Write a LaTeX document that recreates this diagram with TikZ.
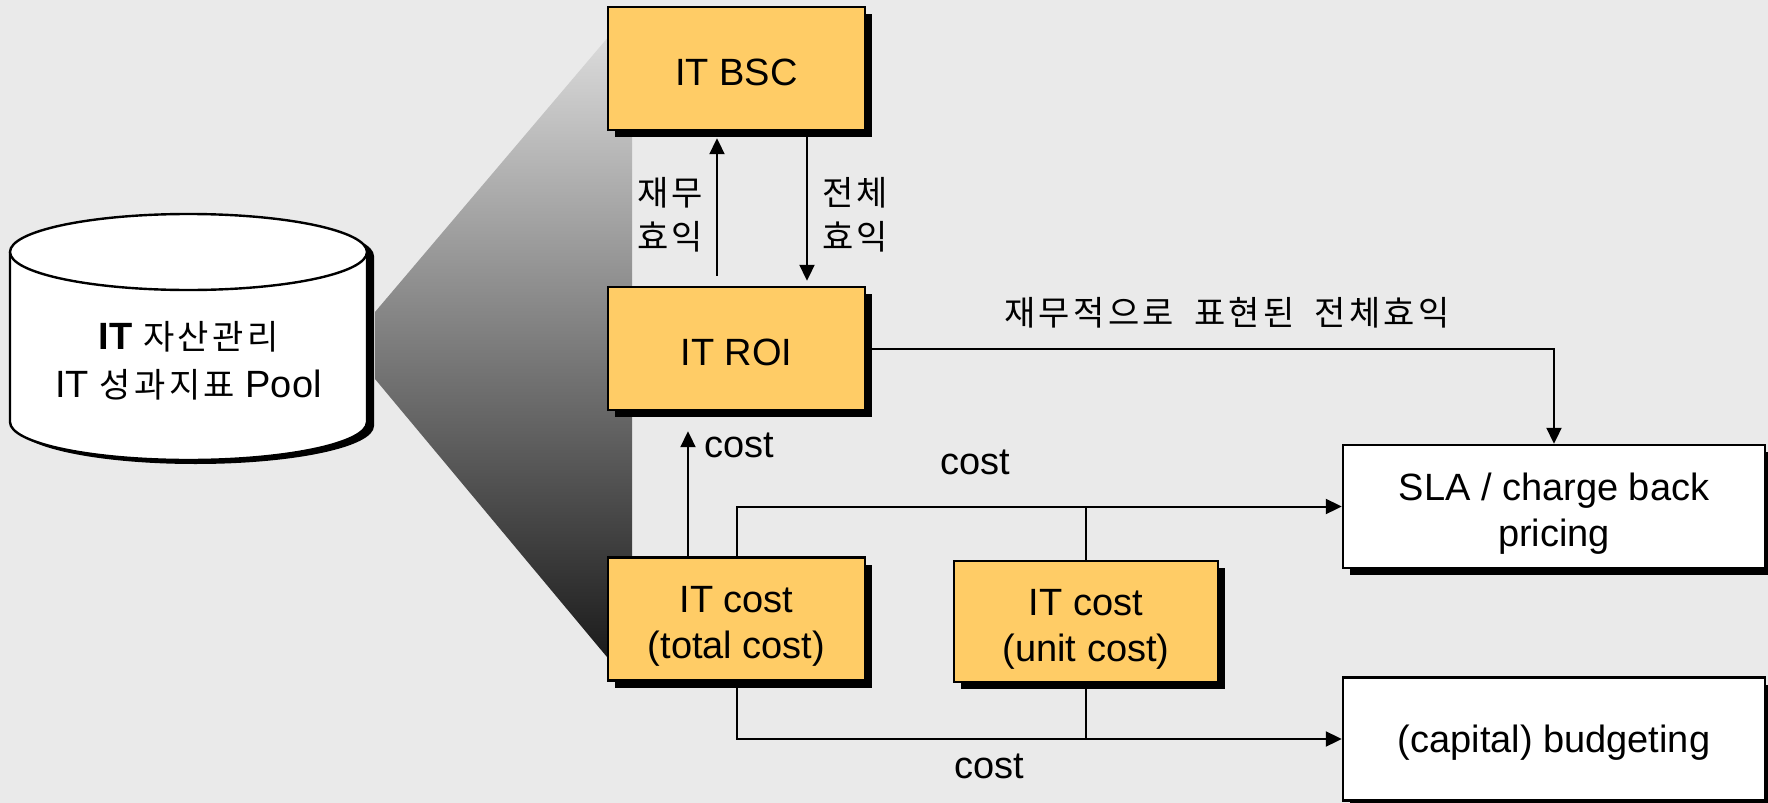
\documentclass[tikz,border=0pt]{standalone}
\usepackage{fontspec}
\setmainfont{Liberation Sans}
\newfontfamily\kr{Noto Sans CJK KR}[LetterSpace=10,WordSpace=1.8]
\usetikzlibrary{arrows.meta,shadows,positioning}
\definecolor{paper}{RGB}{234,234,234}
\definecolor{boxfill}{RGB}{255,204,102}
\definecolor{wedgetop}{RGB}{228,228,228}
\definecolor{wedgebot}{RGB}{18,18,18}
\newcommand\hg[1]{{\kr\fontsize{17}{23}\selectfont #1}}
\tikzset{
  itbox/.style={
      rectangle,
      inner sep=0pt,
      minimum width=128.5pt,
      minimum height=61.5pt,
      text height=17.5pt,
      line width=1.2pt,
      draw=black,
      fill=boxfill,
      align=center,
      font=\fontsize{19}{23}\selectfont,
      drop shadow={shadow xshift=3.5pt,shadow yshift=-3.5pt,fill=black,opacity=1}
  },
  twoline/.style={text height=43.5pt},
  outbox/.style={itbox,fill=white,minimum width=211pt},
  lbl/.style={inner sep=0pt,align=center,font=\fontsize{19}{23}\selectfont},
  krlbl/.style={inner sep=0pt,align=center,font=\kr\fontsize{17}{22}\selectfont},
  arr/.style={line width=1pt,-{Triangle[length=8pt,width=7.5pt]}},
  link/.style={line width=1pt}
}
\begin{document}
\begin{tikzpicture}[x=0.5pt,y=-0.5pt]
    \fill[paper] (0,0) rectangle (1768,803);
    \useasboundingbox (0,0) rectangle (1768,803);
    % shaded fan from the pool to the metric boxes
    \shade[top color=wedgetop,bottom color=wedgebot]
      (375,312) -- (632,9) -- (632,687) -- (375,379) -- cycle;
    % the pool
    \begin{scope}[shift={(7,4)}]
      \fill[black] (10,252) -- (10,422)
        arc[start angle=180,end angle=0,x radius=178.5,y radius=38] -- (367,252)
        arc[start angle=0,end angle=-180,x radius=178.5,y radius=38] -- cycle;
    \end{scope}
    \filldraw[fill=white,line width=1.2pt] (10,252) -- (10,422)
      arc[start angle=180,end angle=0,x radius=178.5,y radius=38] -- (367,252);
    \draw[fill=white,line width=1.2pt] (188.5,252) ellipse[x radius=178.5,y radius=38];
    \node[lbl,font=\fontsize{19}{24}\selectfont] (pool) at (188.5,361)
      {\textbf{IT} \hg{자산관리}\\IT \hg{성과지표} Pool};
    % metric boxes
    \node[itbox] (bsc) at (736.5,68.5) {IT BSC};
    \node[itbox] (roi) at (736.5,348.5) {IT ROI};
    \node[itbox,twoline] (total) at (736.5,619) {IT cost\\(total cost)};
    \node[itbox,twoline,minimum width=132pt,minimum height=60.5pt] (unit) at (1086,621.5) {IT cost\\(unit cost)};
    \node[outbox,twoline] (sla) at (1554,506.5) {SLA / charge back\\pricing};
    \node[outbox] (budget) at (1554,739) {(capital) budgeting};
    % flows
    \draw[arr] ([xshift=-9.75pt,yshift=5pt]roi.north) -- ([xshift=-9.75pt,yshift=-3.5pt]bsc.south);
    \draw[arr] ([xshift=35.25pt]bsc.south) -- ([xshift=35.25pt,yshift=2.5pt]roi.north);
    \draw[arr] ([xshift=-24.25pt]total.north) -- ([xshift=-24.25pt,yshift=-10pt]roi.south);
    \draw[arr] (roi.east) -| (sla.north);
    \draw[arr] (total.north) |- (sla.west);
    \draw[link] (unit.north) -- (unit.north |- sla.west);
    \draw[arr] (total.south) |- (budget.west);
    \draw[link] (unit.south) -- (unit.south |- budget.west);
    % labels
    \node[krlbl] (finben) at (670,215) {재무\\효익};
    \node[krlbl] (totben) at (855,215) {전체\\효익};
    \node[lbl] (costroi) at (739,445) {cost};
    \node[lbl] (costsla) at (975,462) {cost};
    \node[lbl] (costbud) at (989,766) {cost};
    \node[krlbl] (roiben) at (1227,313) {재무적으로 표현된 전체효익};
\end{tikzpicture}
\end{document}
